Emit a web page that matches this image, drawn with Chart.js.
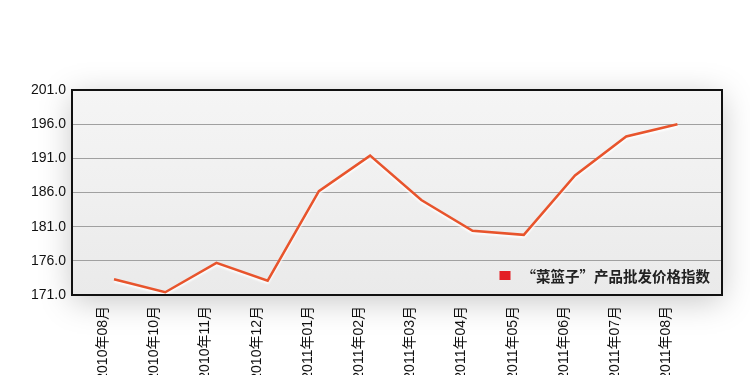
<!DOCTYPE html>
<html>
<head>
<meta charset="utf-8">
<script src="https://cdn.jsdelivr.net/npm/chart.js@4.4.1/dist/chart.umd.min.js"></script>
<style>
	html, body { margin: 0; padding: 0; background: #fff; overflow: hidden; }
	#wrapper { width: 750px; height: 375px; }
</style>
</head>
<body>
<div id="wrapper"><canvas id="basket-chart" width="750" height="375"></canvas></div>
<script>
// Chart data
const lsMonth = [
	"2010年08月",
	"2010年10月",
	"2010年11月",
	"2010年12月",
	"2011年01月",
	"2011年02月",
	"2011年03月",
	"2011年04月",
	"2011年05月",
	"2011年06月",
	"2011年07月",
	"2011年08月",
];
const priceIndex = [173.3, 171.4, 175.7, 173.1, 186.2, 191.4, 184.9, 180.4, 179.8, 188.5, 194.2, 196.0];
const seriesLabel = "“菜篮子”产品批发价格指数";
const yMin = 171;
const yMax = 201;
const yStep = 5;

const LINE_COLOR = "#E8542C";
const LEGEND_COLOR = "#E31E24";

// plot box: gradient fill, soft shadow, black frame
const plotBox = {
	id: "plotBox",
	beforeDraw(chart) {
		let { ctx, chartArea: a } = chart;
		ctx.save();
		ctx.shadowColor = "rgba(0,0,0,0.22)";
		ctx.shadowBlur = 30;
		ctx.shadowOffsetY = 6;
		let grad = ctx.createLinearGradient(0, a.top, 0, a.bottom);
		grad.addColorStop(0, "#f5f5f5");
		grad.addColorStop(1, "#eaeaea");
		ctx.fillStyle = grad;
		ctx.fillRect(a.left, a.top, a.right - a.left, a.bottom - a.top);
		ctx.restore();
	},
	afterDraw(chart) {
		let { ctx, chartArea: a } = chart;
		ctx.save();
		ctx.strokeStyle = "#111";
		ctx.lineWidth = 2;
		ctx.strokeRect(a.left, a.top, a.right - a.left, a.bottom - a.top);
		ctx.restore();
	},
	beforeDatasetsDraw(chart) {
		let ctx = chart.ctx;
		ctx.save();
		ctx.shadowColor = "rgba(255,255,255,0.95)";
		ctx.shadowBlur = 2;
		ctx.shadowOffsetY = 2;
	},
	afterDatasetsDraw(chart) {
		chart.ctx.restore();
	},
};

// legend sits inside the plot, bottom right
const innerLegend = {
	id: "innerLegend",
	afterDatasetsDraw(chart) {
		let { ctx, chartArea: a } = chart;
		ctx.save();
		ctx.font = "bold 14.5px 'Noto Sans CJK SC'";
		ctx.textBaseline = "middle";
		ctx.textAlign = "right";
		let y = a.bottom - 19;
		let textRight = a.right - 12;
		let w = ctx.measureText(seriesLabel).width;
		ctx.fillStyle = "#222";
		ctx.fillText(seriesLabel, textRight, y);
		ctx.fillStyle = LEGEND_COLOR;
		ctx.fillRect(textRight - w - 22, y - 5, 11, 9);
		ctx.restore();
	},
};

let ctx = document.getElementById("basket-chart").getContext("2d");

let mixedChart = new Chart(ctx, {
	type: "line",
	data: {
		datasets: [
			{
				label: seriesLabel,
				data: priceIndex.map((v, i) => ({ x: i, y: v })),
				borderColor: LINE_COLOR,
				backgroundColor: LINE_COLOR,
				borderWidth: 2.5,
				pointRadius: 0,
				tension: 0,
			},
		],
	},
	options: {
		responsive: false,
		animation: false,
		layout: {
			padding: { top: 90, right: 28, left: 0, bottom: 0 },
		},
		scales: {
			x: {
				type: "linear",
				min: -0.82,
				max: 11.87,
				grid: { display: false },
				border: { display: false },
				afterBuildTicks: (scale) => {
					scale.ticks = lsMonth.map((_, i) => ({ value: i }));
				},
				afterFit: (scale) => {
					scale.height = 80;
				},
				ticks: {
					minRotation: 90,
					maxRotation: 90,
					autoSkip: false,
					padding: 3,
					labelOffset: -11,
					color: "#111",
					font: { family: "'Liberation Sans', 'Noto Sans CJK SC'", size: 14 },
					callback: (v) => lsMonth[v],
				},
			},
			y: {
				min: yMin,
				max: yMax,
				grid: { color: "#a0a0a0", lineWidth: 1, drawTicks: false },
				border: { display: false },
				afterFit: (scale) => {
					scale.width = 72;
				},
				ticks: {
					stepSize: yStep,
					padding: 6,
					color: "#111",
					font: { family: "'Liberation Sans'", size: 14 },
					callback: (v) => v.toFixed(1),
				},
			},
		},
		plugins: {
			legend: { display: false },
			tooltip: { enabled: false },
		},
	},
	plugins: [plotBox, innerLegend],
});
</script>
</body>
</html>
